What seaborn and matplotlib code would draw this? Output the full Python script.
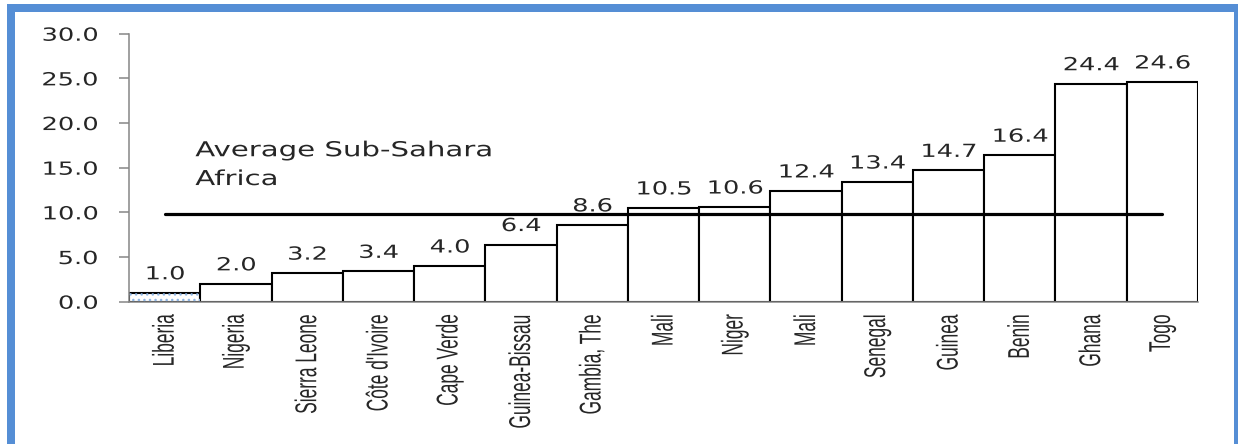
import matplotlib
matplotlib.use("Agg")
import numpy as np
import pandas as pd
import matplotlib.pyplot as plt
import matplotlib.patheffects as pe
from matplotlib.transforms import Affine2D
from matplotlib.patches import Rectangle
import seaborn as sns

countries = ["Liberia", "Nigeria", "Sierra Leone", "Côte d'Ivoire", "Cape Verde",
             "Guinea-Bissau", "Gambia, The", "Mali", "Niger", "Mali", "Senegal",
             "Guinea", "Benin", "Ghana", "Togo"]
values = [1.0, 2.0, 3.2, 3.4, 4.0, 6.4, 8.6, 10.5, 10.6, 12.4, 13.4, 14.7, 16.4, 24.4, 24.6]
average_value = 9.8
average_label = "Average Sub-Sahara\nAfrica"
y_ticks = [0, 5, 10, 15, 20, 25, 30]

# the source picture is stretched sideways, so the text is widened to match
SX = 1.42


class StretchX(pe.AbstractPathEffect):
    def __init__(self, sx=SX, pivot="center"):
        super().__init__()
        self.sx = sx
        self.pivot = pivot

    def draw_path(self, renderer, gc, tpath, affine, rgbFace=None):
        pts = affine.transform(tpath.vertices)
        if len(pts):
            x0, x1 = pts[:, 0].min(), pts[:, 0].max()
        else:
            x0 = x1 = 0.0
        p = {"left": x0, "right": x1, "center": (x0 + x1) / 2}[self.pivot]
        stretch = Affine2D().translate(-p, 0).scale(self.sx, 1).translate(p, 0)
        renderer.draw_path(gc, tpath, affine + stretch, rgbFace)


sns.set_style("white")
plt.rcParams["font.family"] = ["DejaVu Sans"]

grey = "#868686"
df = pd.DataFrame({"pos": np.arange(len(values)), "value": values})

fig = plt.figure(figsize=(12.38, 4.44), dpi=100)
ax = fig.add_axes([129 / 1238, 1 - 301.7 / 444, (1198 - 129) / 1238, (301.7 - 33.7) / 444])

sns.barplot(data=df, x="pos", y="value", color="white", saturation=1, edgecolor="black",
            linewidth=1.5, width=1.0, errorbar=None, ax=ax)
# dotted fill on the first bar
ax.bar(0, values[0], width=1.0, fill=False, hatch="...", edgecolor="#8db4e2",
       linewidth=0, zorder=1.5)

ax.plot([0, len(values) - 1], [average_value, average_value], color="black", lw=2.3,
        solid_capstyle="round", zorder=3)

for i, v in enumerate(values):
    ax.annotate(f"{v:.1f}", (i, v), xytext=(0, 9.7), textcoords="offset points",
                ha="center", va="baseline", fontsize=13, path_effects=[StretchX()])

ax.text(0.43, 13.06, average_label, ha="left", va="baseline", fontsize=14.8,
        linespacing=1.55, path_effects=[StretchX(pivot="left")])

ax.set_xlim(-0.5, len(values) - 0.5)
ax.set_ylim(0, 30)
ax.set_xlabel("")
ax.set_ylabel("")

ax.set_xticks(range(len(countries)))
ax.set_xticklabels(countries, rotation=90, fontfamily="Liberation Sans", fontsize=12.5)
ax.set_xticks(np.arange(-0.5, len(values), 1.0), minor=True)
ax.tick_params(axis="x", which="major", length=0, pad=9)
ax.tick_params(axis="x", which="minor", length=4.3, width=1.1, color=grey, direction="out")

ax.set_yticks(y_ticks)
ax.set_yticklabels([f"{t:.1f}" for t in y_ticks], fontsize=13)
ax.tick_params(axis="y", length=7.5, width=1.1, color=grey, direction="out", pad=15, left=True)

# rotated names: widen across (narrow-font look)
for lab in ax.get_xticklabels():
    lab.set_path_effects([StretchX(sx=1.73)])
for lab in ax.get_yticklabels():
    lab.set_path_effects([StretchX(pivot="right")])

sns.despine(ax=ax)
for side in ["left", "bottom"]:
    ax.spines[side].set_color(grey)
    ax.spines[side].set_linewidth(1.1)

# blue frame around the whole picture
fig.patches.append(Rectangle((11 / 1238, 1 - 446 / 444), (1238 - 11) / 1238, (446 - 8) / 444,
                             transform=fig.transFigure, fill=False, edgecolor="#558ed5",
                             linewidth=8 * 0.72, clip_on=False))

fig.savefig("out.png", dpi=100)
